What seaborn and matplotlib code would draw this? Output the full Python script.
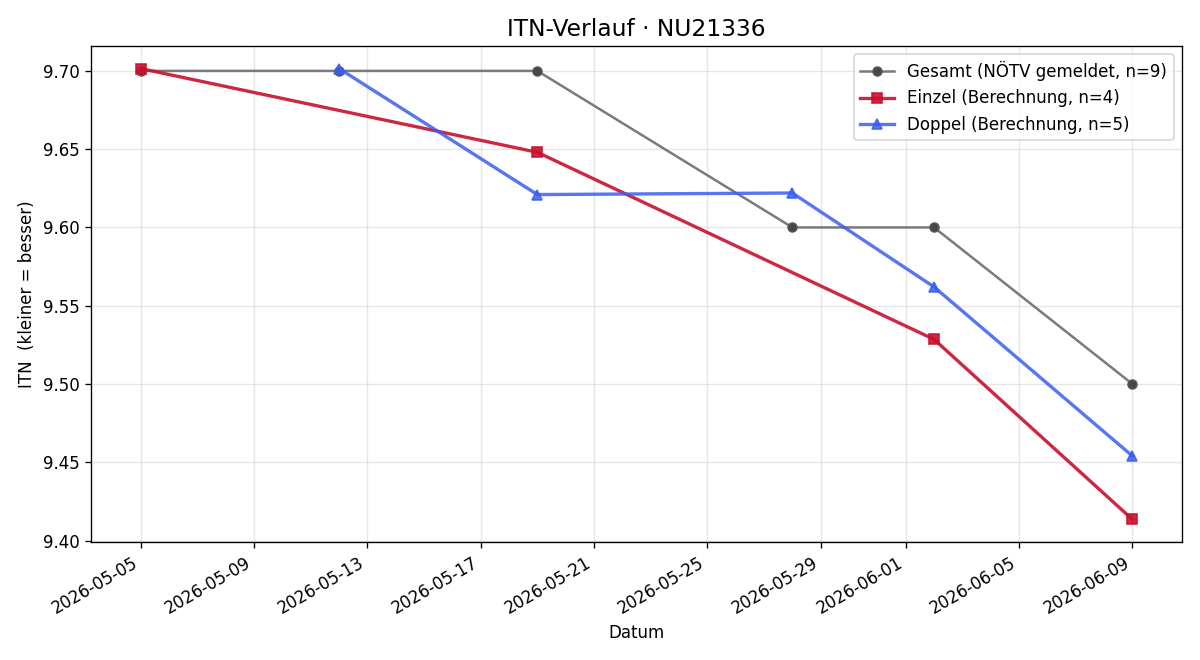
import matplotlib
matplotlib.use("Agg")
import matplotlib.pyplot as plt
import matplotlib.dates as mdates
import seaborn as sns
import pandas as pd

gesamt_dates = ["2026-05-05", "2026-05-12", "2026-05-19", "2026-05-28", "2026-06-02", "2026-06-09"]
gesamt_vals = [9.70, 9.70, 9.70, 9.60, 9.60, 9.50]

einzel_dates = ["2026-05-05", "2026-05-19", "2026-06-02", "2026-06-09"]
einzel_vals = [9.7015, 9.648, 9.5285, 9.4135]

doppel_dates = ["2026-05-12", "2026-05-19", "2026-05-28", "2026-06-02", "2026-06-09"]
doppel_vals = [9.7015, 9.621, 9.622, 9.562, 9.454]

labels = ["Gesamt (NÖTV gemeldet, n=9)", "Einzel (Berechnung, n=4)", "Doppel (Berechnung, n=5)"]

plt.rcParams['font.family'] = ['DejaVu Sans']

fig, ax = plt.subplots(figsize=(10, 5.5), dpi=120)

sns.lineplot(x=pd.to_datetime(gesamt_dates), y=gesamt_vals, ax=ax, color="#7a7a7a",
             marker="o", markersize=5.5, linewidth=1.5, markeredgewidth=0.8,
             markerfacecolor="#474747", markeredgecolor="#5a5a5a",
             label=labels[0])
sns.lineplot(x=pd.to_datetime(einzel_dates), y=einzel_vals, ax=ax, color="#C8102E", alpha=0.9,
             marker="s", markersize=6.5, linewidth=2, markeredgewidth=1, markeredgecolor="#C8102E",
             label=labels[1])
sns.lineplot(x=pd.to_datetime(doppel_dates), y=doppel_vals, ax=ax, color="#3A5EF0", alpha=0.85,
             marker="^", markersize=6.5, linewidth=2, markeredgewidth=1, markeredgecolor="#3A5EF0",
             label=labels[2])

loc = mdates.AutoDateLocator()
ax.xaxis.set_major_locator(loc)
ax.xaxis.set_major_formatter(mdates.DateFormatter("%Y-%m-%d"))
ax.set_title("ITN-Verlauf · NU21336", fontsize=14)
ax.set_xlabel("Datum")
ax.set_ylabel("ITN  (kleiner = besser)")
ax.grid(True, alpha=0.3)
ax.legend(loc="upper right")
fig.autofmt_xdate()
fig.tight_layout()
fig.savefig("out.png", dpi=120)
